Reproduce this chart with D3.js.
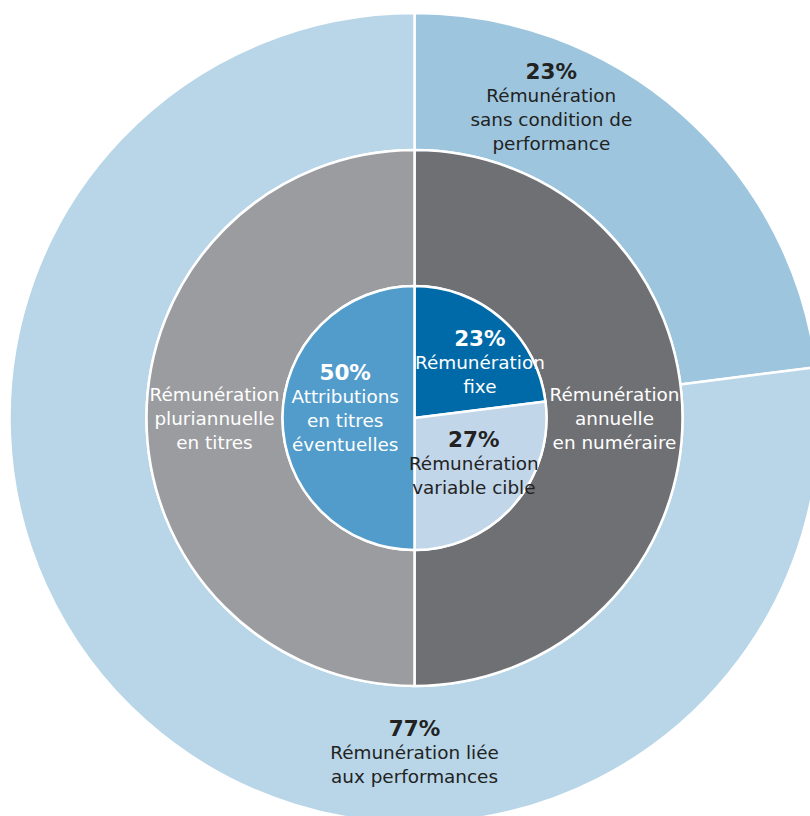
<!DOCTYPE html>
<html>
<head>
<meta charset="utf-8">
<script src="https://cdn.jsdelivr.net/npm/d3@7"></script>
<style>
  html, body { margin: 0; padding: 0; background: #fff; }
  svg { display: block; }
  text { font-family: "DejaVu Sans", Verdana, sans-serif; }
</style>
</head>
<body>
<svg id="chart" width="810" height="816"></svg>
<script>
// ---- Data ----
const outerCategories = ["Rémunération sans condition de performance", "Rémunération liée aux performances"];
const outerValues = [23, 77];

const middleCategories = ["Rémunération annuelle en numéraire", "Rémunération pluriannuelle en titres"];
const middleValues = [50, 50];

const innerCategories = ["Rémunération fixe", "Rémunération variable cible", "Attributions en titres éventuelles"];
const innerValues = [23, 27, 50];

// ---- Styles / layout ----
const W = 810, H = 816;
const cx = 414.5, cy = 418;
const rOuter = 405, rMiddle = 268, rInner = 132;

const outerColors = ["#9dc6de", "#b8d6e8"];
const middleColors = ["#6f7074", "#9b9ca0"];
const innerColors = ["#006aa8", "#c2d6ea", "#529ccb"];

const svg = d3.select("#chart");
const g = svg.append("g").attr("transform", `translate(${cx},${cy})`);

const pie = d3.pie().sort(null).value(d => d.v);

function ring(values, cats, colors, r0, r1, cls) {
  const data = pie(values.map((v, i) => ({ v, c: cats[i], i })));
  const arc = d3.arc().innerRadius(r0).outerRadius(r1);
  g.append("g").attr("class", cls).selectAll("path")
    .data(data).join("path")
    .attr("d", arc)
    .attr("fill", d => colors[d.index])
    .attr("stroke", "#fff")
    .attr("stroke-width", 2.5)
    .attr("stroke-linejoin", "round");
  return data;
}

const outerArcs = ring(outerValues, outerCategories, outerColors, rMiddle, rOuter, "outer");
const middleArcs = ring(middleValues, middleCategories, middleColors, rInner, rMiddle, "middle");
const innerArcs = ring(innerValues, innerCategories, innerColors, 0, rInner, "inner");

// label placement: polar (angle in degrees from top, radius) for each label block
function polar(deg, r) {
  const a = deg * Math.PI / 180;
  return [r * Math.sin(a), -r * Math.cos(a)];
}

const lineH = 24;
function labelBlock(pos, lines, color) {
  const [x, y] = pos;
  const n = lines.length;
  const t = g.append("g").attr("transform", `translate(${x},${y})`);
  lines.forEach((ln, i) => {
    t.append("text")
      .attr("x", 0)
      .attr("y", (i - (n - 1) / 2) * lineH)
      .attr("text-anchor", "middle")
      .attr("dominant-baseline", "central")
      .attr("fill", color)
      .attr("font-size", ln.bold ? 21.5 : 18.4)
      .attr("font-weight", ln.bold ? "bold" : "normal")
      .text(ln.t);
  });
}

function pct(v) { return v + "%"; }

// outer labels
labelBlock(polar(23.8, 339), [
  { t: pct(outerValues[0]), bold: true },
  { t: "Rémunération" }, { t: "sans condition de" }, { t: "performance" }
], "#222");
labelBlock(polar(180, 334), [
  { t: pct(outerValues[1]), bold: true },
  { t: "Rémunération liée" }, { t: "aux performances" }
], "#222");

// middle labels
labelBlock(polar(90, 200), [
  { t: "Rémunération" }, { t: "annuelle" }, { t: "en numéraire" }
], "#fff");
labelBlock(polar(270, 200), [
  { t: "Rémunération" }, { t: "pluriannuelle" }, { t: "en titres" }
], "#fff");

// inner labels
labelBlock(polar(49.5, 86), [
  { t: pct(innerValues[0]), bold: true },
  { t: "Rémunération" }, { t: "fixe" }
], "#fff");
labelBlock(polar(127.7, 75), [
  { t: pct(innerValues[1]), bold: true },
  { t: "Rémunération" }, { t: "variable cible" }
], "#222");
labelBlock(polar(278, 70), [
  { t: pct(innerValues[2]), bold: true },
  { t: "Attributions" }, { t: "en titres" }, { t: "éventuelles" }
], "#fff");
</script>
</body>
</html>
